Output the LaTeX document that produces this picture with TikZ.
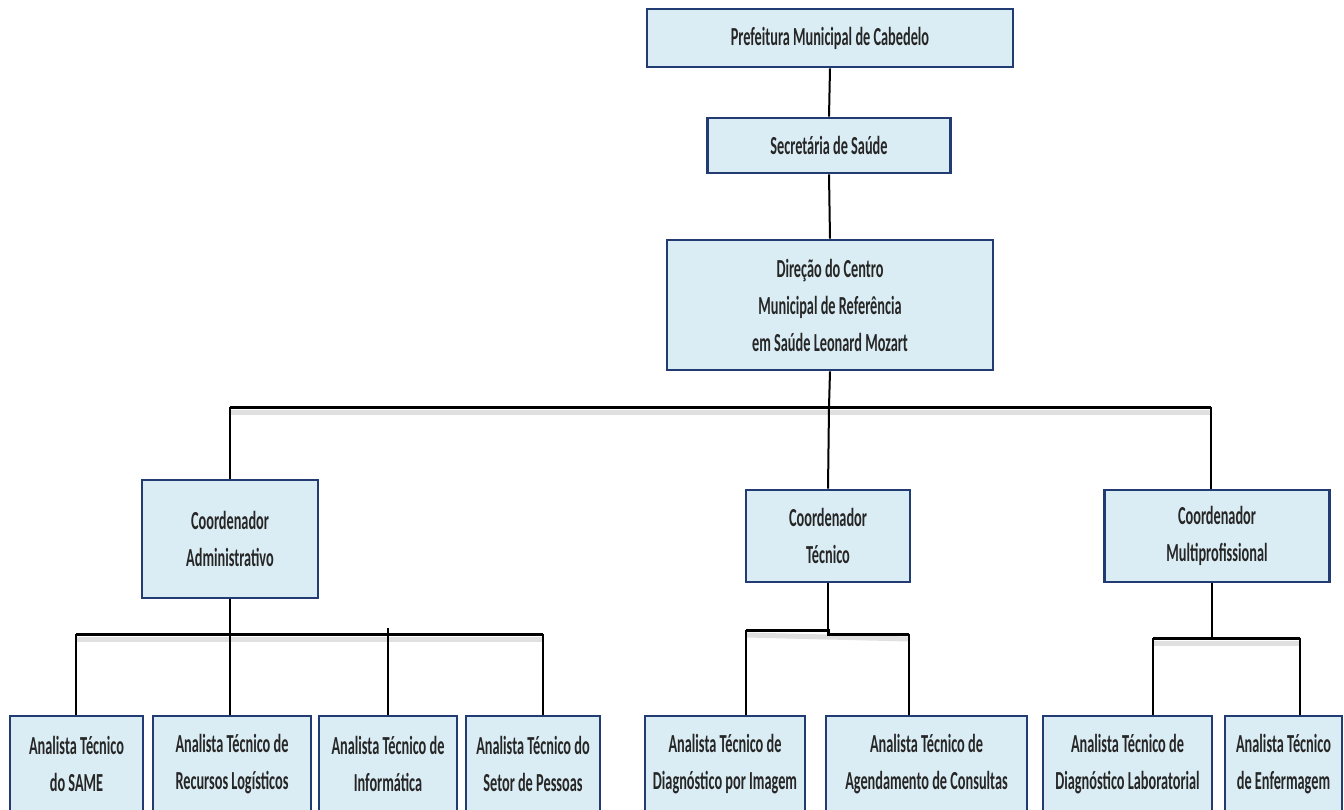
\documentclass[tikz,border=0pt]{standalone}
\usepackage{fontspec}
\setmainfont{Carlito}[FakeStretch=0.55]
\definecolor{boxfill}{HTML}{DBEDF4}
\definecolor{boxline}{HTML}{223B73}
\tikzset{
  box/.style={draw=boxline, line width=2.8pt, fill=boxfill, rectangle, inner sep=0pt,
    align=center, font=\fontsize{26}{37}\selectfont\bfseries, text=black!85},
  link/.style={draw=black, line width=2pt},
  bus/.style={draw=black, line width=3pt},
  busshadow/.style={draw=black!40, line width=5pt, opacity=0.3},
}
\begin{document}
\begin{tikzpicture}[x=1pt,y=-1pt]
\useasboundingbox (0,0) rectangle (1344,809);
\clip (0,0) rectangle (1344,809);
\fill[white] (0,0) rectangle (1344,809);

% coordinates for buses
\coordinate (bA) at (230,407);
\coordinate (bB) at (829,407);
\coordinate (bC) at (1211,407);
\coordinate (aL) at (76,634);
\coordinate (aM) at (230,634);
\coordinate (aR) at (543,634);
\coordinate (tL) at (746,630);
\coordinate (tM) at (828,630);
\coordinate (tR) at (909,634);
\coordinate (mL) at (1153,638);
\coordinate (mM) at (1212,638);
\coordinate (mR) at (1300,638);

% shadows of buses
\draw[busshadow] ([yshift=-5pt]bA) -- ([yshift=-5pt]bC);
\draw[busshadow] ([yshift=-5pt]aL) -- ([yshift=-5pt]aR);
\draw[busshadow] ([yshift=-5pt]tL) -- ([yshift=-5pt]tR);
\draw[busshadow] ([yshift=-5pt]mL) -- ([yshift=-5pt]mR);

% nodes
\node[box, minimum width=366, minimum height=58] (pref) at (830,38) {Prefeitura Municipal de Cabedelo};
\node[box, minimum width=243, minimum height=55] (sec) at (829,145.5) {Secretária de Saúde};
\node[box, minimum width=326, minimum height=130] (dir) at (830,305) {Direção do Centro\\Municipal de Referência\\em Saúde Leonard Mozart};
\node[box, minimum width=176, minimum height=118] (adm) at (230,539) {Coordenador\\Administrativo};
\node[box, minimum width=164, minimum height=92] (tec) at (828,536) {Coordenador\\Técnico};
\node[box, minimum width=225, minimum height=92] (mul) at (1217,536) {Coordenador\\Multiprofissional};

\node[box, minimum width=133, minimum height=96] (s1) at (76.5,764) {Analista Técnico\\do SAME};
\node[box, minimum width=158, minimum height=96] (s2) at (232,764) {Analista Técnico de\\Recursos Logísticos};
\node[box, minimum width=138, minimum height=96] (s3) at (388,764) {Analista Técnico de\\Informática};
\node[box, minimum width=134, minimum height=96] (s4) at (533,764) {Analista Técnico do\\Setor de Pessoas};
\node[box, minimum width=160, minimum height=96] (s5) at (725,764) {Analista Técnico de\\Diagnóstico por Imagem};
\node[box, minimum width=201, minimum height=96] (s6) at (926.5,764) {Analista Técnico de\\Agendamento de Consultas};
\node[box, minimum width=169, minimum height=96] (s7) at (1127.5,764) {Analista Técnico de\\Diagnóstico Laboratorial};
\node[box, minimum width=117, minimum height=96] (s8) at (1283.5,764) {Analista Técnico\\de Enfermagem};

% connectors top
\draw[link] (pref.south) -- (sec.north);
\draw[link] (sec.south) -- (dir.north);
\draw[link] (dir.south) -- (bB);
\draw[bus] (bA) -- (bC);
\draw[link] (bA) -- (adm.north);
\draw[link] (bB) -- (tec.north);
\draw[link] (bC) -- (bC |- mul.north);

% admin children
\draw[link] (adm.south) -- (aM);
\draw[bus] (aL) -- (aR);
\draw[link] (aL) -- (aL |- s1.north);
\draw[link] (aM) -- (aM |- s2.north);
\draw[link] (aM -| s3.north) ++(0,-6) -- (s3.north);
\draw[link] (aR) -- (aR |- s4.north);

% tecnico children
\draw[link] (tec.south) -- (tM);
\draw[bus] (tL) -- (tM) -- (tM |- tR) -- (tR);
\draw[link] (tL) -- (tL |- s5.north);
\draw[link] (tR) -- (tR |- s6.north);

% multi children
\draw[link] (mM |- mul.south) -- (mM);
\draw[bus] (mL) -- (mR);
\draw[link] (mL) -- (mL |- s7.north);
\draw[link] (mR) -- (mR |- s8.north);
\end{tikzpicture}
\end{document}
